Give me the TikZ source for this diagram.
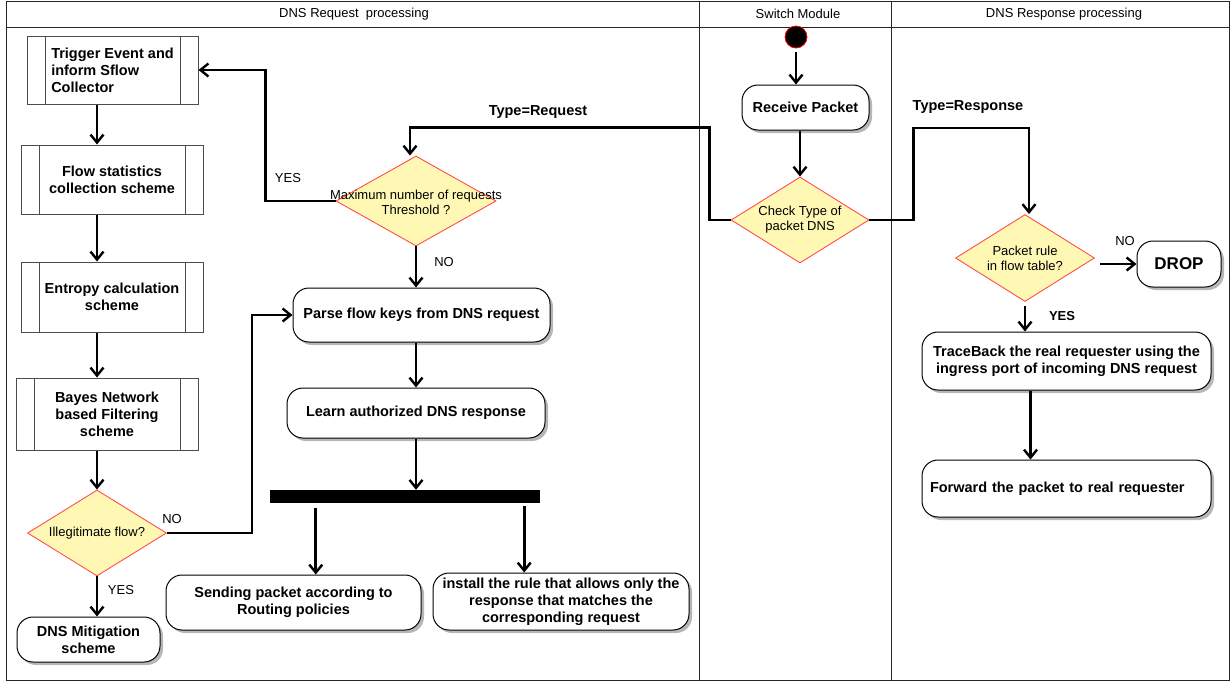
\documentclass[tikz,border=0pt]{standalone}
\usepackage{fontspec}
\setmainfont{Liberation Sans}
\usetikzlibrary{shapes.geometric,arrows.meta,shadows}
\definecolor{decfill}{HTML}{FFF8B5}
\definecolor{decline}{HTML}{FF4D4D}
\tikzset{
  lane/.style={draw=black!85, line width=0.9pt},
  head/.style={font=\fontsize{13}{15}\selectfont},
  subproc/.style={draw=black!70, line width=1pt, align=center, inner sep=0pt,
    font=\bfseries\fontsize{14.5}{17}\selectfont,
    path picture={\draw[black!70, line width=1pt]
      ([xshift=18pt]path picture bounding box.north west) -- ([xshift=18pt]path picture bounding box.south west)
      ([xshift=-18pt]path picture bounding box.north east) -- ([xshift=-18pt]path picture bounding box.south east);}},
  activity/.style={draw, line width=1pt, rounded corners=16pt, fill=white, align=center, inner sep=0pt,
    font=\bfseries\fontsize{14.5}{17}\selectfont,
    drop shadow={shadow xshift=3pt, shadow yshift=-3pt, fill=black!40, opacity=0.7}},
  decision/.style={diamond, draw=decline, fill=decfill, line width=0.9pt, inner sep=0pt},
  dtext/.style={font=\fontsize{13}{15}\selectfont, align=center},
  lbl/.style={font=\fontsize{13}{15}\selectfont},
  blbl/.style={font=\bfseries\fontsize{14.5}{17}\selectfont},
  flow/.style={->, line width=2.8pt}
}
\begin{document}
\begin{tikzpicture}[x=1pt, y=-1pt, >={Straight Barb[length=8pt, width=13pt, line width=2.4pt]}]
\useasboundingbox (0,0) rectangle (1230,683);
% swimlanes
\draw[lane] (6,1) rectangle (1229,680);
\draw[lane] (6,27) -- (1229,27);
\draw[lane] (699,1) -- (699,680);
\draw[lane] (891,1) -- (891,680);
\node[head] (hreq) at (354,14) {DNS Request\ \ processing};
\node[head] (hsw) at (798,14) {Switch Module};
\node[head] (hres) at (1064,14) {DNS Response processing};

% left column
\node[subproc, minimum width=171pt, minimum height=68pt, align=left] (trig) at (112.5,70) {Trigger Event and\\ inform Sflow\\ Collector};
\node[subproc, minimum width=182pt, minimum height=69pt] (stat) at (112,179.5) {Flow statistics\\collection scheme};
\node[subproc, minimum width=182pt, minimum height=70pt] (entr) at (112,297) {Entropy calculation\\scheme};
\node[subproc, minimum width=182pt, minimum height=72pt] (bayes) at (107,414) {Bayes Network\\based Filtering\\scheme};
\node[decision, minimum width=139pt, minimum height=86pt] (illeg) at (97,533) {};
\node[dtext] (illegt) at (illeg) {Illegitimate flow?};
\node[activity, minimum width=143pt, minimum height=45pt] (mitig) at (88.5,639.5) {DNS Mitigation\\scheme};

% middle column
\node[decision, minimum width=160pt, minimum height=90pt] (thres) at (416,201) {};
\node[dtext] (threst) at (416,202) {Maximum number of requests\\Threshold ?};
\node[activity, minimum width=257pt, minimum height=54pt] (parse) at (421.5,315) {Parse flow keys from DNS request};
\node[activity, minimum width=258pt, minimum height=50pt] (learn) at (416,413) {Learn authorized DNS response};
\node[fill=black, minimum width=270pt, minimum height=13pt, inner sep=0pt] (fork) at (405,496.5) {};
\node[activity, minimum width=255pt, minimum height=55pt] (send) at (293.5,602.5) {Sending packet according to\\Routing policies};
\node[activity, minimum width=256pt, minimum height=57pt] (inst) at (561,601.5) {install the rule that allows only the\\response that matches the\\corresponding request};

% switch column
\node[circle, fill=black, draw=red, line width=0.8pt, minimum size=22pt, inner sep=0pt] (start) at (796,37) {};
\node[activity, minimum width=127pt, minimum height=45pt] (recv) at (805.5,107.5) {Receive Packet};
\node[decision, minimum width=138pt, minimum height=86pt] (check) at (800,220) {};
\node[dtext] (checkt) at (check) {Check Type of\\packet DNS};

% response column
\node[decision, minimum width=139pt, minimum height=87pt] (rule) at (1025,258) {};
\node[dtext] (rulet) at (rule) {Packet rule\\in flow table?};
\node[activity, minimum width=84pt, minimum height=46pt, font=\bfseries\fontsize{17}{20}\selectfont] (drop) at (1179,264) {DROP};
\node[activity, minimum width=289pt, minimum height=58pt] (trace) at (1066.5,361) {TraceBack the real requester using the\\ingress port of incoming DNS request};
\node[activity, minimum width=289pt, minimum height=57pt, text width=273pt, align=left] (fwd) at (1066.5,488.5) {Forward the packet to real requester};

% connectors
\draw[flow] (trig.south -| illeg) -- (stat.north -| illeg);
\draw[flow] (stat.south -| illeg) -- (entr.north -| illeg);
\draw[flow] (entr.south -| illeg) -- (bayes.north -| illeg);
\draw[flow] (bayes.south -| illeg) -- (illeg.north);
\draw[flow] (illeg.east) -- ++(85,0) |- (parse.west);
\draw[flow] (illeg.south) -- (illeg.south |- mitig.north);
\draw[flow] (thres.west) -- ++(-70,0) |- (trig.east);
\draw[flow] (thres.south) -- (thres.south |- parse.north);
\draw[flow] (learn.north |- parse.south) -- (learn.north);
\draw[flow] (learn.south) -- (learn.south |- fork.north);
\draw[flow] ([xshift=46pt, yshift=-5pt]fork.south west) coordinate (f1) -- (f1 |- send.north);
\draw[flow] ([xshift=-16pt, yshift=-3pt]fork.south east) coordinate (f2) -- (f2 |- inst.north);
\draw[flow] ([yshift=-4pt]start.south) -- (start.south |- recv.north);
\draw[flow] (check.north |- recv.south) -- (check.north);
\draw[flow] (check.west) -- ++(-21,0) |- ([xshift=-6pt, yshift=28pt]thres.north) -- ([xshift=-6pt]thres.north);
\draw[flow] (check.east) -- ++(44,0) |- ([xshift=4pt, yshift=86pt]rule.north) -- ([xshift=4pt]rule.north);
\draw[flow] ([xshift=5pt]drop.west -| rule.east) -- (drop.west);
\draw[flow] ([yshift=-4pt]rule.south) -- (rule.south |- trace.north);
\draw[flow] ([xshift=-36pt]trace.south) -- ([xshift=-36pt]fwd.north);

% labels
\node[lbl] (yes1) at (288,178) {YES};
\node[lbl] (no1) at (444,262) {NO};
\node[lbl] (no2) at (172,519) {NO};
\node[lbl] (yes2) at (121,590) {YES};
\node[blbl] (treq) at (538,112) {Type=Request};
\node[blbl] (tres) at (968,107) {Type=Response};
\node[lbl] (no3) at (1125,241) {NO};
\node[blbl, font=\bfseries\fontsize{13}{15}\selectfont] (yes3) at (1062,316) {YES};
\end{tikzpicture}
\end{document}
